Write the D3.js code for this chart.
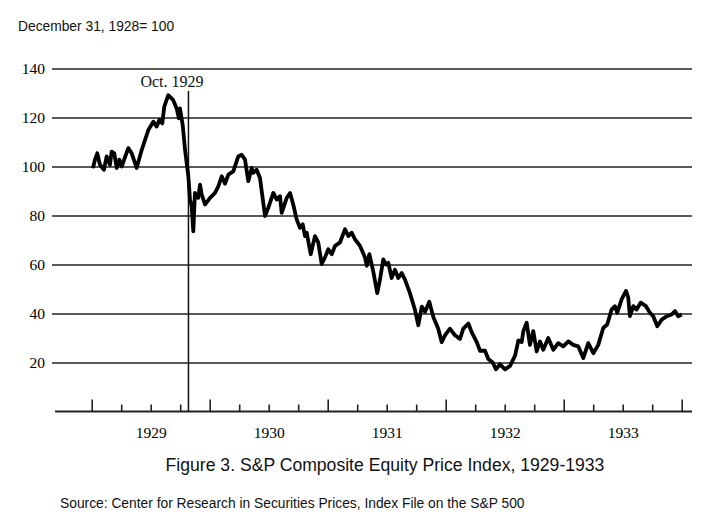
<!DOCTYPE html>
<html>
<head>
  <meta charset="utf-8">
  <title>S&P Composite Equity Price Index, 1929-1933</title>
  <script src="https://d3js.org/d3.v7.min.js"></script>
  <style>
    body { margin: 0; background: #fff; }
    .note { font: 13.8px "Liberation Sans", Arial, sans-serif; fill: #111; }
    .title { font: 17.6px "Liberation Sans", Arial, sans-serif; fill: #111; }
    .axis text { font: 15.5px "Liberation Serif", "Times New Roman", serif; fill: #000; }
    .grid line { stroke: #222; stroke-width: 1.6px; }
    .series { fill: none; stroke: #000; stroke-width: 3.8px; stroke-linejoin: round; }
  </style>
</head>
<body>
  <div id="chart"></div>
  <script>
    // index, December 31, 1928 = 100 (decimal years)
    const dates = [
      1929.000, 1929.014, 1929.028, 1929.047, 1929.070, 1929.104, 1929.127, 1929.155, 1929.169, 1929.191,
      1929.212, 1929.234, 1929.254, 1929.310, 1929.339, 1929.381, 1929.424, 1929.480, 1929.522, 1929.551,
      1929.573, 1929.598, 1929.615, 1929.649, 1929.691, 1929.720, 1929.739, 1929.748, 1929.771, 1929.791,
      1929.819, 1929.833, 1929.847, 1929.861, 1929.875, 1929.903, 1929.918, 1929.932, 1929.960, 1930.003,
      1930.045, 1930.073, 1930.102, 1930.130, 1930.158, 1930.200, 1930.242, 1930.271, 1930.299, 1930.327,
      1930.356, 1930.369, 1930.398, 1930.426, 1930.469, 1930.497, 1930.539, 1930.568, 1930.596, 1930.610,
      1930.653, 1930.681, 1930.708, 1930.737, 1930.765, 1930.788, 1930.808, 1930.822, 1930.856, 1930.892,
      1930.920, 1930.949, 1930.977, 1931.005, 1931.034, 1931.062, 1931.104, 1931.147, 1931.175, 1931.203,
      1931.231, 1931.274, 1931.316, 1931.331, 1931.353, 1931.386, 1931.420, 1931.443, 1931.471, 1931.494,
      1931.514, 1931.542, 1931.570, 1931.598, 1931.627, 1931.655, 1931.697, 1931.740, 1931.768, 1931.797,
      1931.825, 1931.861, 1931.895, 1931.937, 1931.966, 1931.994, 1932.036, 1932.079, 1932.121, 1932.149,
      1932.192, 1932.220, 1932.263, 1932.291, 1932.333, 1932.361, 1932.398, 1932.426, 1932.460, 1932.503,
      1932.545, 1932.588, 1932.616, 1932.644, 1932.658, 1932.686, 1932.714, 1932.742, 1932.771, 1932.799,
      1932.827, 1932.869, 1932.912, 1932.954, 1932.996, 1933.039, 1933.081, 1933.123, 1933.166, 1933.208,
      1933.251, 1933.293, 1933.335, 1933.369, 1933.406, 1933.434, 1933.454, 1933.491, 1933.528, 1933.547,
      1933.561, 1933.590, 1933.618, 1933.652, 1933.697, 1933.731, 1933.759, 1933.793, 1933.831, 1933.873,
      1933.915, 1933.943, 1933.971, 1934.000
    ];
    const values = [
      100.3, 100.0, 102.8, 105.4, 100.7, 98.7, 104.1, 100.7, 106.1, 105.4,
      99.4, 102.8, 100.0, 107.5, 105.4, 99.4, 106.8, 114.9, 118.3, 116.3,
      119.0, 117.6, 124.4, 129.1, 127.1, 123.7, 119.7, 123.7, 117.0, 106.8,
      96.0, 86.5, 83.8, 73.5, 89.2, 87.2, 92.6, 88.6, 84.5, 87.2,
      89.2, 91.9, 96.0, 93.0, 96.7, 98.0, 104.1, 104.8, 102.8, 94.0,
      99.4, 97.4, 98.7, 95.3, 79.8, 83.2, 89.2, 86.5, 87.9, 81.1,
      87.2, 89.2, 84.5, 78.4, 75.0, 76.4, 71.6, 73.0, 64.2, 71.6,
      69.0, 60.2, 62.9, 66.2, 64.2, 67.6, 69.0, 74.4, 71.6, 73.0,
      70.3, 67.6, 62.9, 59.5, 64.2, 57.2, 48.3, 53.8, 62.1, 60.0,
      60.7, 54.5, 57.9, 54.5, 56.5, 53.8, 48.3, 41.4, 35.2, 42.8,
      40.7, 44.8, 38.6, 33.8, 28.3, 31.1, 33.8, 31.1, 29.6, 33.8,
      35.9, 32.4, 28.3, 24.8, 24.8, 21.4, 20.0, 17.2, 19.3, 17.2,
      18.6, 22.8, 29.0, 28.3, 32.8, 36.2, 27.2, 32.8, 24.5, 28.6,
      25.2, 30.0, 25.2, 27.9, 26.6, 28.6, 27.2, 26.6, 21.8, 27.9,
      23.8, 27.2, 34.1, 35.5, 41.6, 43.0, 40.3, 45.8, 49.2, 46.5,
      38.9, 43.0, 41.6, 44.4, 43.0, 40.3, 38.9, 34.8, 37.5, 38.9,
      39.6, 41.0, 38.9, 39.6
    ];
    const yTicks = [20, 40, 60, 80, 100, 120, 140];
    const years = [1929, 1930, 1931, 1932, 1933];
    const crashDate = 1929.82;
    const crashLabel = "Oct. 1929";

    const width = 718, height = 528;
    const svg = d3.select("#chart").append("svg")
      .attr("width", width).attr("height", height);

    const x = d3.scaleLinear().domain([1929, 1934]).range([91.7, 681.7]);
    const y = d3.scaleLinear().domain([0, 140]).range([411.5, 68.5]);

    svg.append("text").attr("class", "note")
      .attr("x", 18).attr("y", 31).text("December 31, 1928= 100");

    // horizontal rules with serif labels
    const yAxis = svg.append("g")
      .attr("class", "axis grid")
      .attr("transform", "translate(52,0)")
      .call(d3.axisLeft(y).tickValues(yTicks).tickSize(-640).tickPadding(7));
    yAxis.select(".domain").remove();

    // baseline with quarter ticks, taller ones at the year boundaries
    const quarters = d3.range(0, 21).map(i => 1929 + i / 4);
    const xAxis = svg.append("g")
      .attr("class", "axis grid")
      .attr("transform", `translate(0,${y(0)})`)
      .call(d3.axisTop(x).tickValues(quarters).tickSize(7).tickFormat(""));
    xAxis.select(".domain").remove();
    xAxis.selectAll(".tick line")
      .attr("y2", d => Number.isInteger(d) ? -12 : -7);
    svg.append("line")
      .attr("x1", 55).attr("x2", 692)
      .attr("y1", y(0)).attr("y2", y(0))
      .attr("stroke", "#222").attr("stroke-width", 1.8);

    const labels = svg.append("g")
      .attr("class", "axis")
      .attr("transform", `translate(0,${y(0) + 12})`)
      .call(d3.axisBottom(x).tickValues(years.map(d => d + 0.5))
        .tickSize(0).tickFormat(d => String(Math.floor(d))));
    labels.select(".domain").remove();

    // crash marker
    svg.append("line")
      .attr("x1", x(crashDate)).attr("x2", x(crashDate))
      .attr("y1", 91).attr("y2", y(0))
      .attr("stroke", "#111").attr("stroke-width", 1.5);
    svg.append("text")
      .attr("x", 172).attr("y", 87)
      .attr("text-anchor", "middle")
      .style("font", "16px 'Liberation Serif', 'Times New Roman', serif")
      .attr("fill", "#111")
      .text(crashLabel);

    const line = d3.line()
      .x((d, i) => x(dates[i]))
      .y(d => y(d));
    svg.append("path")
      .datum(values)
      .attr("class", "series")
      .attr("d", line);

    svg.append("text").attr("class", "title")
      .attr("x", 385).attr("y", 471).attr("text-anchor", "middle")
      .text("Figure 3. S&P Composite Equity Price Index, 1929-1933");
    svg.append("text").attr("class", "note")
      .attr("x", 60).attr("y", 508)
      .text("Source: Center for Research in Securities Prices, Index File on the S&P 500");
  </script>
</body>
</html>
